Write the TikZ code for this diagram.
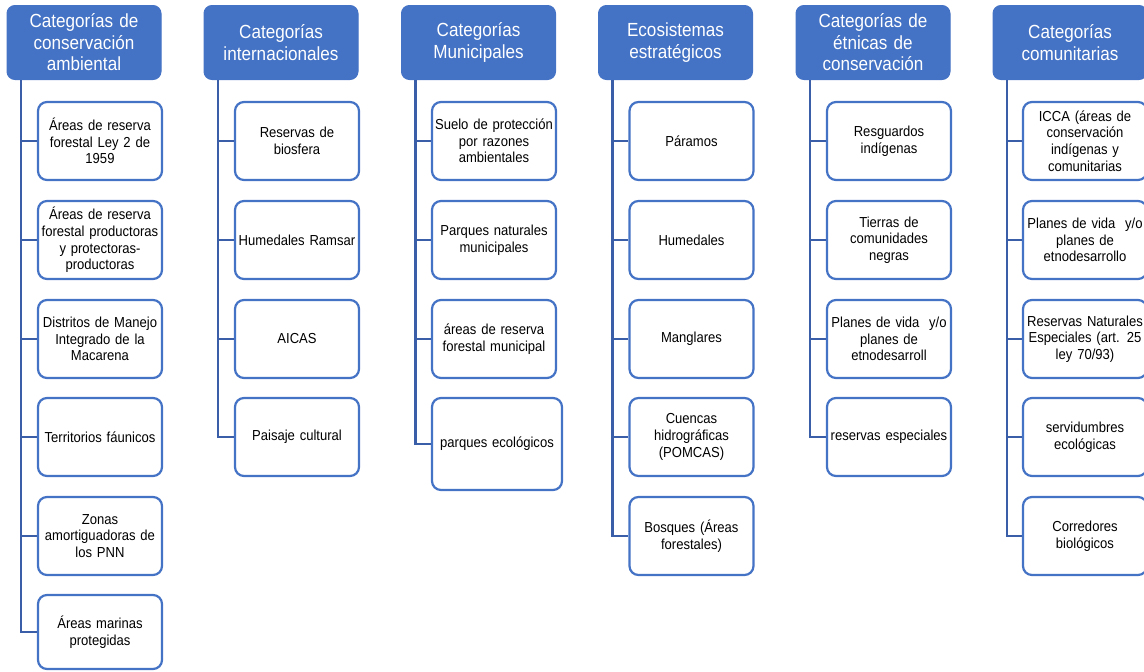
\documentclass[tikz,border=0pt]{standalone}
\usepackage{fontspec}
\setmainfont{Liberation Sans}[FakeStretch=0.9]
\definecolor{acc}{HTML}{4472C4}
\definecolor{lnk}{HTML}{3B5EA8}
\begin{document}
\begin{tikzpicture}[x=1pt,y=-1pt,
 hdr/.style={draw=acc, fill=acc, line width=1pt, rounded corners=8pt, minimum width=154pt, minimum height=74pt, text width=150pt, align=center, inner sep=0pt, text=white, font=\fontsize{19}{21.5}\selectfont},
 leaf/.style={draw=acc, line width=2.2pt, fill=white, rounded corners=9pt, minimum width=124pt, minimum height=78pt, text width=124pt, align=center, inner sep=0pt, text=black, font=\fontsize{14.5}{16.7}\selectfont},
 conn/.style={draw=lnk, line width=2.6pt}]
\useasboundingbox (0,0) rectangle (1144,672);
\begin{scope}
\clip (0,0) rectangle (1144,672);
% headers
\node[hdr] (h1) at (84,42.5) {Categorías de\\conservación\\ambiental};
\node[hdr] (h2) at (281,42.5) {Categorías\\internacionales};
\node[hdr] (h3) at (478.5,42.5) {Categorías\\Municipales};
\node[hdr] (h4) at (675.5,42.5) {Ecosistemas\\estratégicos};
\node[hdr] (h5) at (873,42.5) {Categorías de\\étnicas de\\conservación};
\node[hdr] (h6) at (1070,42.5) {Categorías\\comunitarias};
% trunk tops
\coordinate (t1) at ([xshift=14.5pt]h1.south west);
\coordinate (t2) at ([xshift=14.5pt]h2.south west);
\coordinate (t3) at ([xshift=14.5pt]h3.south west);
\coordinate (t4) at ([xshift=14.5pt]h4.south west);
\coordinate (t5) at ([xshift=14.5pt]h5.south west);
\coordinate (t6) at ([xshift=14.5pt]h6.south west);
% column 1
\node[leaf] (a1) at (100,141) {Áreas de reserva\\forestal Ley 2 de\\1959};
\node[leaf] (a2) at (100,240) {Áreas de reserva\\forestal productoras\\y protectoras-\\productoras};
\node[leaf] (a3) at (100,339) {Distritos de Manejo\\Integrado de la\\Macarena};
\node[leaf] (a4) at (100,437) {Territorios fáunicos};
\node[leaf] (a5) at (100,536) {Zonas\\amortiguadoras de\\los PNN};
\node[leaf, minimum height=74pt] (a6) at (100,632) {Áreas marinas\\protegidas};
% column 2
\node[leaf] (b1) at (297,141) {Reservas de\\biosfera};
\node[leaf] (b2) at (297,240) {Humedales Ramsar};
\node[leaf] (b3) at (297,339) {AICAS};
\node[leaf] (b4) at (297,437) {Paisaje cultural};
% column 3
\node[leaf] (c1) at (494,141) {Suelo de protección\\por razones\\ambientales};
\node[leaf] (c2) at (494,240) {Parques naturales\\municipales};
\node[leaf] (c3) at (494,339) {áreas de reserva\\forestal municipal};
\node[leaf, minimum width=130pt, minimum height=92pt] (c4) at (497,444) {parques ecológicos};
% column 4
\node[leaf] (d1) at (691.5,141) {Páramos};
\node[leaf] (d2) at (691.5,240) {Humedales};
\node[leaf] (d3) at (691.5,339) {Manglares};
\node[leaf] (d4) at (691.5,437) {Cuencas\\hidrográficas\\(POMCAS)};
\node[leaf] (d5) at (691.5,536) {Bosques (Áreas\\forestales)};
% column 5
\node[leaf] (e1) at (889,141) {Resguardos\\indígenas};
\node[leaf] (e2) at (889,240) {Tierras de\\comunidades\\negras};
\node[leaf] (e3) at (889,339) {Planes de vida \ y/o\\planes de\\etnodesarroll};
\node[leaf] (e4) at (889,437) {reservas especiales};
% column 6
\node[leaf] (f1) at (1085,141) {ICCA (áreas de\\conservación\\indígenas y\\comunitarias};
\node[leaf] (f2) at (1085,240) {Planes de vida \ y/o\\planes de\\etnodesarrollo};
\node[leaf] (f3) at (1085,339) {Reservas Naturales\\Especiales (art. 25\\ley 70/93)};
\node[leaf] (f4) at (1085,437) {servidumbres\\ecológicas};
\node[leaf] (f5) at (1085,536) {Corredores\\biológicos};
% connectors
\foreach \n in {a1,a2,a3,a4,a5,a6} \draw[conn] (t1) |- (\n.west);
\foreach \n in {b1,b2,b3,b4} \draw[conn] (t2) |- (\n.west);
\foreach \n in {c1,c2,c3,c4} \draw[conn] (t3) |- (\n.west);
\foreach \n in {d1,d2,d3,d4,d5} \draw[conn] (t4) |- (\n.west);
\foreach \n in {e1,e2,e3,e4} \draw[conn] (t5) |- (\n.west);
\foreach \n in {f1,f2,f3,f4,f5} \draw[conn] (t6) |- (\n.west);
\end{scope}
\end{tikzpicture}
\end{document}
